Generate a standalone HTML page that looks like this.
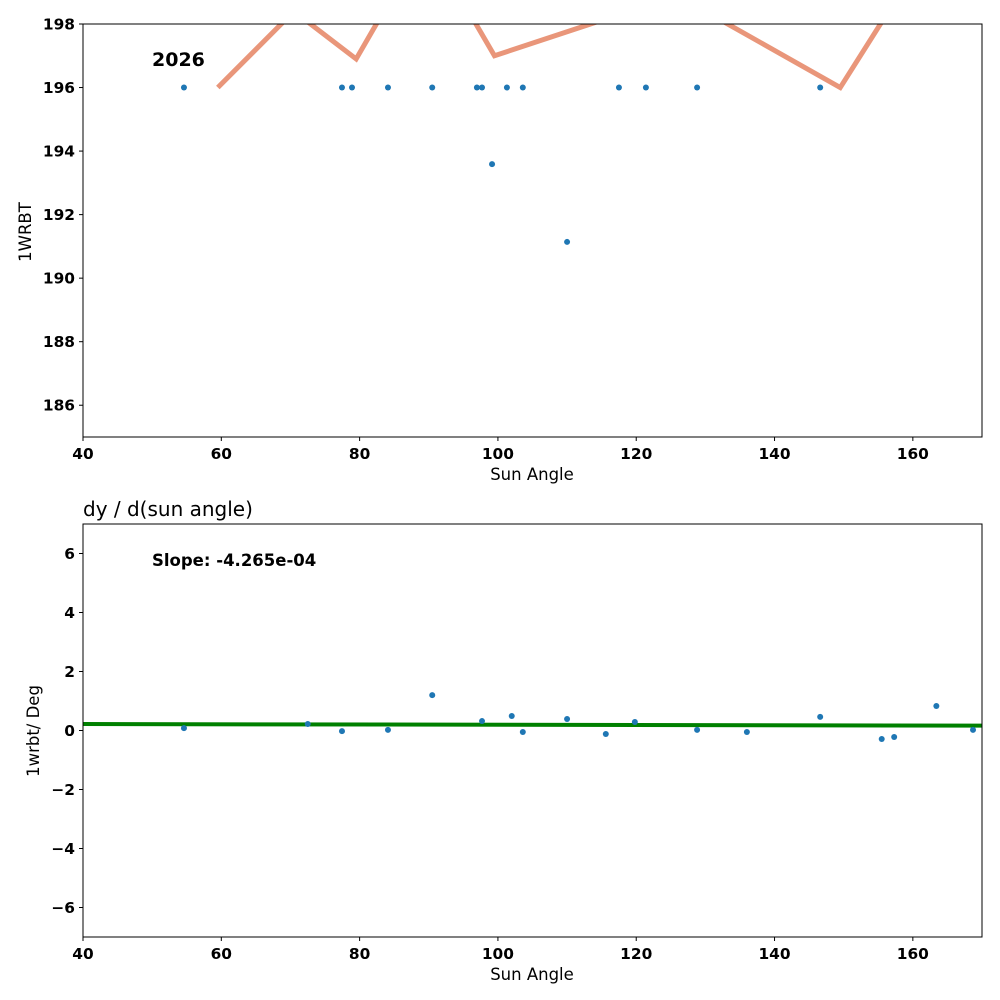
<!DOCTYPE html>
<html><head><meta charset="utf-8"><style>
body{margin:0;background:#fff}
svg{display:block;font-family:"DejaVu Sans","Liberation Sans",sans-serif}
.tick{font-size:15.4px;font-weight:bold}
.lab{font-size:16.5px}
</style></head><body>
<svg id="chart" width="1000" height="1000"></svg>
<script>
const topLineX=[59.5,70.5,79.5,89.6,99.5,125.9,149.5,162];
const topLineY=[196,198.4,196.9,200.7,197,198.9,196,200.3];
const topPtsX=[54.6,77.45,78.9,84.1,90.5,96.96,97.7,101.3,103.6,117.5,121.4,128.8,146.6,99.15,110.0];
const topPtsY=[196,196,196,196,196,196,196,196,196,196,196,196,196,193.59,191.14];
const botPtsX=[54.6,72.5,77.45,84.1,90.5,97.7,102.0,103.6,110.0,115.6,119.8,128.8,136.0,146.6,155.5,157.3,163.4,168.7];
const botPtsY=[0.08,0.22,-0.02,0.02,1.2,0.32,0.49,-0.05,0.39,-0.12,0.29,0.02,-0.05,0.46,-0.29,-0.22,0.83,0.02];
const fitIntercept=0.237, fitSlope=-4.265e-4;
const xTicks=[40,60,80,100,120,140,160];
const topYTicks=[186,188,190,192,194,196,198];
const botYTicks=[-6,-4,-2,0,2,4,6];
const NS='http://www.w3.org/2000/svg';
const svg=document.getElementById('chart');
function mk(t,a,p){const e=document.createElementNS(NS,t);for(const k in a)e.setAttribute(k,a[k]);(p||svg).appendChild(e);return e;}
const L=83,R=982;
const sx=v=>L+(v-40)*(R-L)/130;
function panel(top,bot,ymin,ymax,name){
  const sy=v=>bot-(v-ymin)*(bot-top)/(ymax-ymin);
  const g=mk('g',{});
  const cid='clip'+name;const cp=mk('clipPath',{id:cid},g);mk('rect',{x:L,y:top,width:R-L,height:bot-top},cp);
  const plot=mk('g',{'clip-path':'url(#'+cid+')'},g);
  return {g,plot,sy};
}
function axes(p,top,bot,yt,name){
  const {g,sy}=p;
  xTicks.forEach(v=>{const x=sx(v);mk('line',{x1:x,x2:x,y1:bot,y2:bot+4,stroke:'#000'},g);
    const t=mk('text',{x:x,y:bot+22,'text-anchor':'middle',class:'tick'},g);t.textContent=v;
    });
  yt.forEach(v=>{const y=sy(v);mk('line',{x1:L-4,x2:L,y1:y,y2:y,stroke:'#000'},g);
    const t=mk('text',{x:L-8,y:y+5.5,'text-anchor':'end',class:'tick'},g);t.textContent=v<0?'\u2212'+(-v):v;
    });
  const r=mk('rect',{x:L,y:top,width:R-L,height:bot-top,fill:'none',stroke:'#000','stroke-width':1},g);
  
  const xl=mk('text',{x:(L+R)/2-0.5,y:bot+43,'text-anchor':'middle',class:'lab'},g);xl.textContent='Sun Angle';
  
}
const p1=panel(24,437,185,198,'top-panel');
let d=topLineX.map((x,i)=>(i?'L':'M')+sx(x)+','+p1.sy(topLineY[i])).join('');
const ln=mk('path',{d:d,fill:'none',stroke:'#e9967a','stroke-width':5,'stroke-linejoin':'miter'},p1.plot);

topPtsX.forEach((x,i)=>{const c=mk('circle',{cx:sx(x),cy:p1.sy(topPtsY[i]),r:3,fill:'#1f77b4'},p1.plot);
  });
axes(p1,24,437,topYTicks,'top');
let t=mk('text',{x:152,y:66,style:'font-size:19px;font-weight:bold'},p1.g);t.textContent='2026';

t=mk('text',{x:31,y:232,'text-anchor':'middle',class:'lab',transform:'rotate(-90 31 232)'},p1.g);t.textContent='1WRBT';

const p2=panel(524,937,-7,7,'bottom-panel');
const fl=mk('line',{x1:sx(40),x2:sx(170),y1:p2.sy(fitIntercept+fitSlope*40),y2:p2.sy(fitIntercept+fitSlope*170),stroke:'#008000','stroke-width':4},p2.plot);

botPtsX.forEach((x,i)=>{const c=mk('circle',{cx:sx(x),cy:p2.sy(botPtsY[i]),r:3,fill:'#1f77b4'},p2.plot);
  });
axes(p2,524,937,botYTicks,'bottom');
t=mk('text',{x:152,y:566,style:'font-size:16.5px;font-weight:bold'},p2.g);t.textContent='Slope: -4.265e-04';

t=mk('text',{x:83,y:516,style:'font-size:20px'},p2.g);t.textContent='dy / d(sun angle)';

t=mk('text',{x:39,y:731,'text-anchor':'middle',class:'lab',transform:'rotate(-90 39 731)'},p2.g);t.textContent='1wrbt/ Deg';

</script>
</body></html>
